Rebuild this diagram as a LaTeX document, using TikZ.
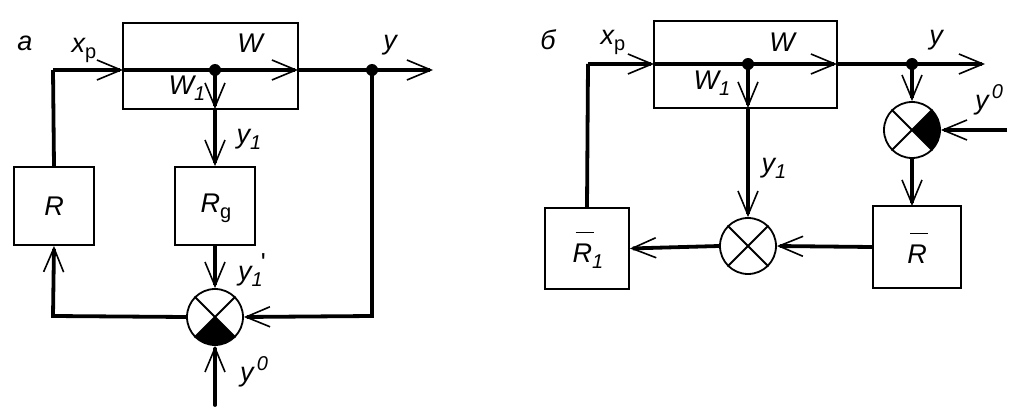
\documentclass[tikz,border=0pt]{standalone}
\usepackage{fontspec}
\setmainfont{Liberation Sans}
\usetikzlibrary{arrows.meta}
\newcommand\ovbar[1]{\leavevmode\rlap{\hspace{3pt}\rule[29pt]{18pt}{1.6pt}}#1}
\newcommand\sbs[1]{\raisebox{-6pt}{\fontsize{20}{20}\selectfont #1}}
\newcommand\sps[1]{\raisebox{11pt}{\fontsize{20}{20}\selectfont #1}}
\begin{document}
\begin{tikzpicture}[x=1pt,y=-1pt,
  sig/.style={line width=3.8pt},
  thin/.style={line width=1.8pt},
  blk/.style={draw, line width=1.8pt, inner sep=0pt},
  sumc/.style={circle, draw, line width=1.8pt, minimum size=56pt, inner sep=0pt},
  arr/.style={-{Straight Barb[length=24pt,width=20pt,line width=1.6pt]}},
  lbl/.style={font=\fontsize{27}{30}\selectfont\itshape, inner sep=0pt},
  jdot/.style={circle, fill, inner sep=0pt, minimum size=12pt}]
\useasboundingbox (0,0) rectangle (1028,417);

% ---------------- diagram a ----------------
\node[blk, minimum width=175pt, minimum height=86pt] (WA) at (210.5,66) {};
\node[blk, minimum width=80pt, minimum height=78pt] (RA) at (54,206) {};
\node[blk, minimum width=80pt, minimum height=78pt] (RgA) at (215,206) {};
\node[sumc] (SA) at (215,317) {};
\coordinate (sA) at (53,70);
\coordinate (inA) at (123,70);
\coordinate (outWA) at (298,70);
\coordinate (endA) at (433,70);
\coordinate (jA) at (215,70);
\coordinate (bA) at (215,109);
\coordinate (oA) at (372,70);
\coordinate (rA) at (372,316);
\coordinate (lA) at (53,316);
\coordinate (y0A) at (215,405);

\begin{scope}
  \clip (SA.center) circle[radius=28];
  \fill (SA.center) -- +(-40,40) -- +(40,40) -- cycle;
\end{scope}
\draw[thin] (SA.45) -- (SA.225) (SA.135) -- (SA.-45);

\draw[sig] (RA.north) -- (sA);
\draw[sig, arr] (sA) -- (inA);
\draw[sig, arr] (inA) -- (outWA);
\draw[sig, arr] (outWA) -- (endA);
\draw[sig, arr] (jA) -- (bA);
\draw[sig, arr] (bA) -- (RgA.north);
\draw[sig, arr] (RgA.south) -- (SA.north);
\draw[sig, arr] (oA) -- (rA) -- (SA.east);
\draw[sig, arr] (SA.west) -- (lA) -- (RA.south);
\draw[sig, arr, line cap=round] (y0A) -- (SA.south);
\node[jdot] (dA1) at (jA) {};
\node[jdot] (dA2) at (oA) {};

\node[lbl] (la) at (25,43) {а};
\node[lbl] (lxA) at (84,50) {x\sbs{\upshape р}};
\node[lbl] (lWA) at (250,43) {W};
\node[lbl] (lW1A) at (187,88) {W\sbs{1}};
\node[lbl] (lyA) at (390,45) {y};
\node[lbl] (ly1A) at (249,139) {y\sbs{1}};
\node[lbl] (lRA) at (54,206) {R};
\node[lbl] (lRgA) at (216,208) {R\sbs{\upshape g}};
\node[lbl] (ly1pA) at (252,270) {y\sbs{1}\kern-2pt\raisebox{9pt}{\fontsize{26}{26}\selectfont\upshape ʹ}};
\node[lbl] (ly0A) at (254,372) {y\sps{\,0}};

% ---------------- diagram b ----------------
\node[blk, minimum width=183pt, minimum height=87pt] (WB) at (745.5,64.5) {};
\node[blk, minimum width=84pt, minimum height=81pt] (R1B) at (587,248.5) {};
\node[blk, minimum width=88pt, minimum height=82pt] (RB) at (917,247) {};
\node[sumc] (SB1) at (748,246) {};
\node[sumc] (SB2) at (912,130) {};
\coordinate (sB) at (588,64);
\coordinate (inB) at (654,64);
\coordinate (outWB) at (837,64);
\coordinate (endB) at (985,64);
\coordinate (jB) at (748,64);
\coordinate (bB) at (748,108);
\coordinate (oB) at (912,64);
\coordinate (y0B) at (1007,130);
\coordinate (rbt) at (912,206);

\begin{scope}
  \clip (SB2.center) circle[radius=28];
  \fill (SB2.center) -- +(40,-40) -- +(40,40) -- cycle;
\end{scope}
\draw[thin] (SB2.45) -- (SB2.225) (SB2.135) -- (SB2.-45);
\draw[thin] (SB1.45) -- (SB1.225) (SB1.135) -- (SB1.-45);

\draw[sig] (R1B.north) -- (sB);
\draw[sig, arr] (sB) -- (inB);
\draw[sig, arr] (inB) -- (outWB);
\draw[sig, arr] (outWB) -- (endB);
\draw[sig, arr] (jB) -- (bB);
\draw[sig, arr] (bB) -- (SB1.north);
\draw[sig, arr] (oB) -- (SB2.north);
\draw[sig, arr] (y0B) -- (SB2.east);
\draw[sig, arr] (SB2.south) -- (rbt);
\draw[sig, arr] (RB.west) -- (SB1.east);
\draw[sig, arr] (SB1.west) -- (R1B.east);
\node[jdot] (dB1) at (jB) {};
\node[jdot] (dB2) at (oB) {};

\node[lbl] (lb) at (548,40) {б};
\node[lbl] (lxB) at (613,42) {x\sbs{\upshape р}};
\node[lbl] (lWB) at (782,42) {W};
\node[lbl] (lW1B) at (712,83) {W\sbs{1}};
\node[lbl] (lyB) at (936,40) {y};
\node[lbl] (ly0B) at (989,100) {y\sps{\,0}};
\node[lbl] (ly1B) at (774,168) {y\sbs{1}};
\node[lbl] (lR1B) at (588,250) {\ovbar{R}\sbs{1}};
\node[lbl] (lRB) at (917,248) {\ovbar{R}};
\end{tikzpicture}
\end{document}
